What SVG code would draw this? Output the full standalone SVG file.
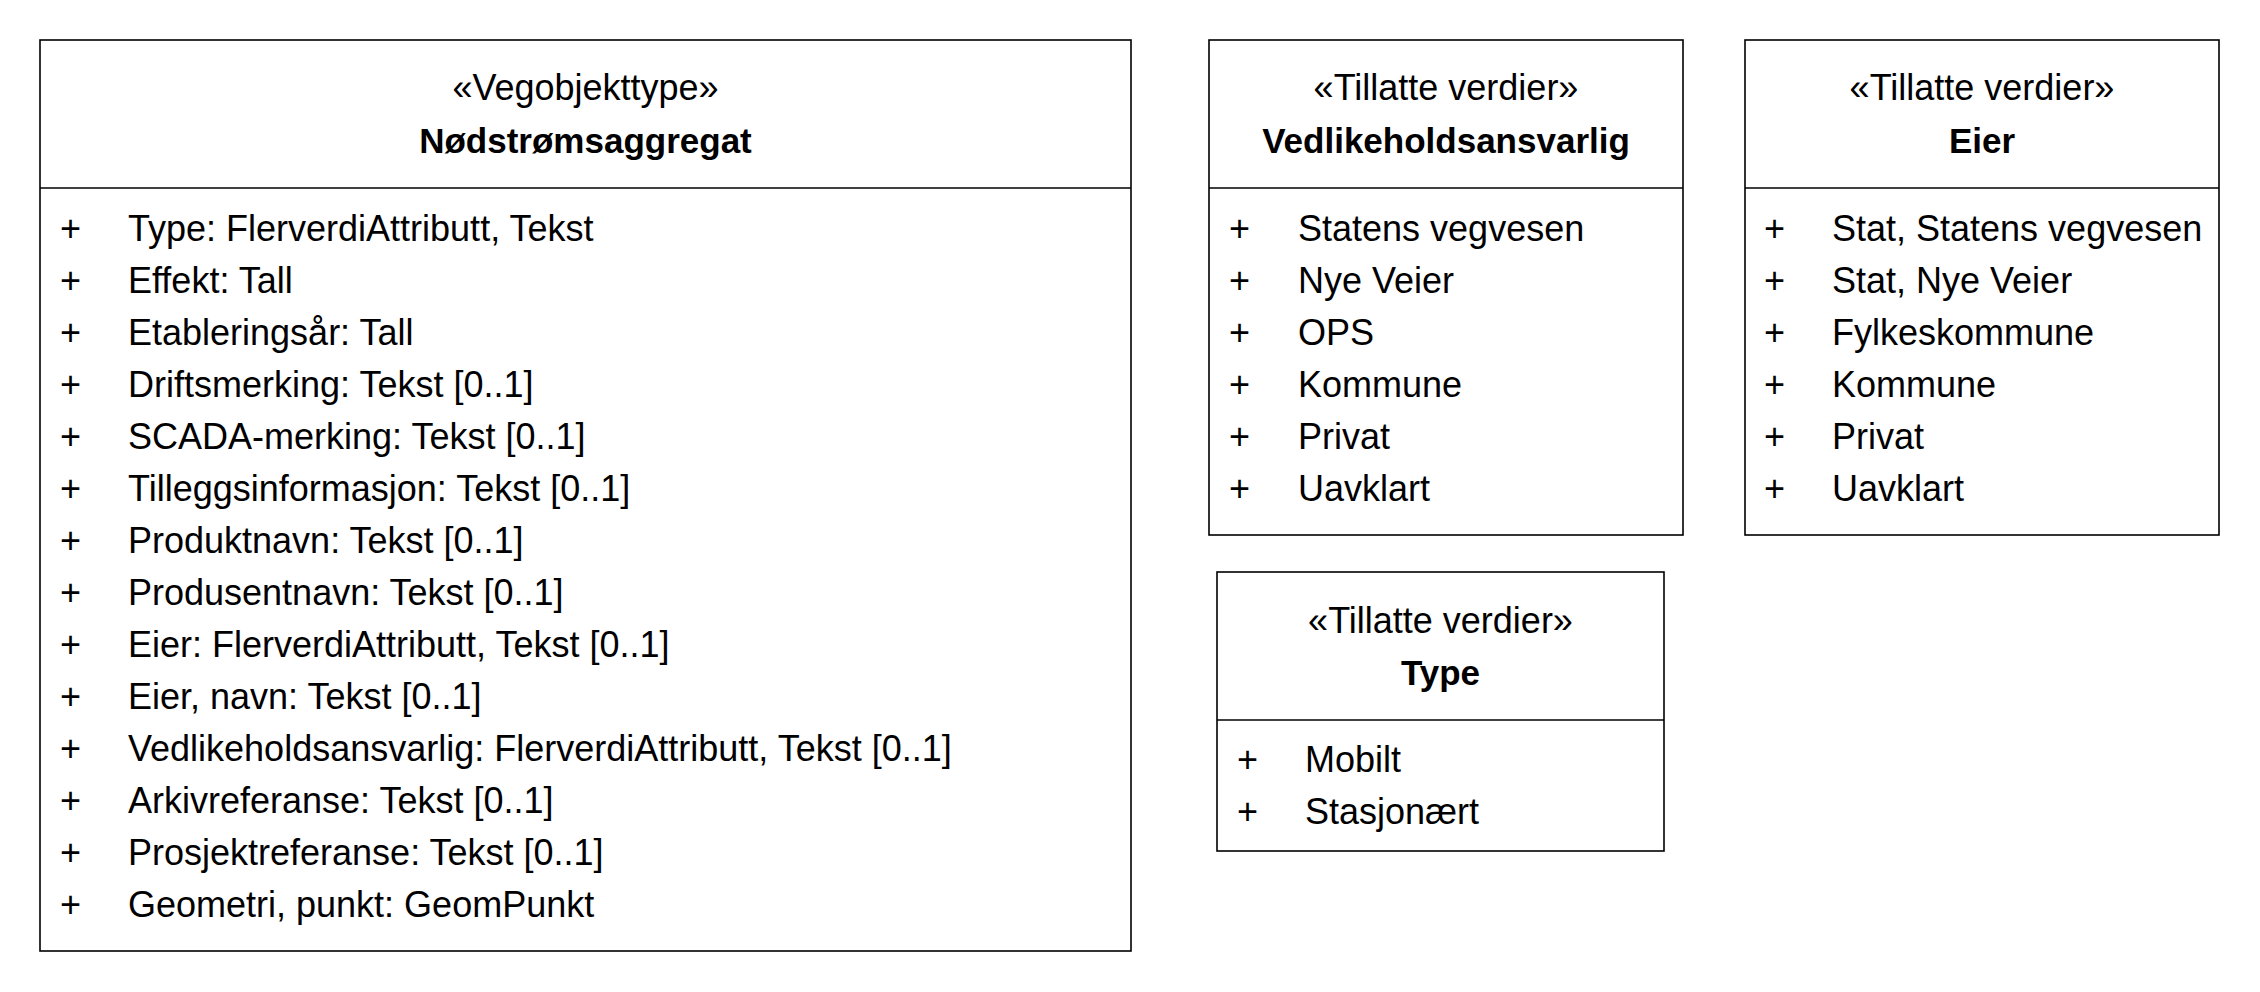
<svg xmlns="http://www.w3.org/2000/svg" width="2260" height="992" viewBox="0 0 2260 992">
<style>
.box{fill:#fff;stroke:#000;stroke-width:1.6}
.div{stroke:#000;stroke-width:1.6}
text{font-family:"Liberation Sans",Arial,sans-serif;font-size:36px;fill:#000}
.c{text-anchor:middle}
.b{font-weight:bold;font-size:35px}
</style>
<rect width="2260" height="992" fill="#fff"/>
<g id="connectors"/>
<g id="Nodstromsaggregat">
<rect class="box" x="40" y="40" width="1091" height="911"/>
<line class="div" x1="40" y1="188" x2="1131" y2="188"/>
<text class="c" x="585.5" y="100">«Vegobjekttype»</text>
<text class="c b" x="585.5" y="153">Nødstrømsaggregat</text>
<g>
<text x="60" y="241">+</text><text x="128" y="241">Type: FlerverdiAttributt, Tekst</text>
<text x="60" y="293">+</text><text x="128" y="293">Effekt: Tall</text>
<text x="60" y="345">+</text><text x="128" y="345">Etableringsår: Tall</text>
<text x="60" y="397">+</text><text x="128" y="397">Driftsmerking: Tekst [0..1]</text>
<text x="60" y="449">+</text><text x="128" y="449">SCADA-merking: Tekst [0..1]</text>
<text x="60" y="501">+</text><text x="128" y="501">Tilleggsinformasjon: Tekst [0..1]</text>
<text x="60" y="553">+</text><text x="128" y="553">Produktnavn: Tekst [0..1]</text>
<text x="60" y="605">+</text><text x="128" y="605">Produsentnavn: Tekst [0..1]</text>
<text x="60" y="657">+</text><text x="128" y="657">Eier: FlerverdiAttributt, Tekst [0..1]</text>
<text x="60" y="709">+</text><text x="128" y="709">Eier, navn: Tekst [0..1]</text>
<text x="60" y="761">+</text><text x="128" y="761">Vedlikeholdsansvarlig: FlerverdiAttributt, Tekst [0..1]</text>
<text x="60" y="813">+</text><text x="128" y="813">Arkivreferanse: Tekst [0..1]</text>
<text x="60" y="865">+</text><text x="128" y="865">Prosjektreferanse: Tekst [0..1]</text>
<text x="60" y="917">+</text><text x="128" y="917">Geometri, punkt: GeomPunkt</text>
</g>
</g>
<g id="Vedlikeholdsansvarlig">
<rect class="box" x="1209" y="40" width="474" height="495"/>
<line class="div" x1="1209" y1="188" x2="1683" y2="188"/>
<text class="c" x="1446" y="100">«Tillatte verdier»</text>
<text class="c b" x="1446" y="153">Vedlikeholdsansvarlig</text>
<text x="1229" y="241">+</text><text x="1298" y="241">Statens vegvesen</text>
<text x="1229" y="293">+</text><text x="1298" y="293">Nye Veier</text>
<text x="1229" y="345">+</text><text x="1298" y="345">OPS</text>
<text x="1229" y="397">+</text><text x="1298" y="397">Kommune</text>
<text x="1229" y="449">+</text><text x="1298" y="449">Privat</text>
<text x="1229" y="501">+</text><text x="1298" y="501">Uavklart</text>
</g>
<g id="Eier">
<rect class="box" x="1745" y="40" width="474" height="495"/>
<line class="div" x1="1745" y1="188" x2="2219" y2="188"/>
<text class="c" x="1982" y="100">«Tillatte verdier»</text>
<text class="c b" x="1982" y="153">Eier</text>
<text x="1764" y="241">+</text><text x="1832" y="241">Stat, Statens vegvesen</text>
<text x="1764" y="293">+</text><text x="1832" y="293">Stat, Nye Veier</text>
<text x="1764" y="345">+</text><text x="1832" y="345">Fylkeskommune</text>
<text x="1764" y="397">+</text><text x="1832" y="397">Kommune</text>
<text x="1764" y="449">+</text><text x="1832" y="449">Privat</text>
<text x="1764" y="501">+</text><text x="1832" y="501">Uavklart</text>
</g>
<g id="Type">
<rect class="box" x="1217" y="572" width="447" height="279"/>
<line class="div" x1="1217" y1="720" x2="1664" y2="720"/>
<text class="c" x="1440.5" y="633">«Tillatte verdier»</text>
<text class="c b" x="1440.5" y="685">Type</text>
<text x="1237" y="772">+</text><text x="1305" y="772">Mobilt</text>
<text x="1237" y="824">+</text><text x="1305" y="824">Stasjonært</text>
</g>
</svg>
